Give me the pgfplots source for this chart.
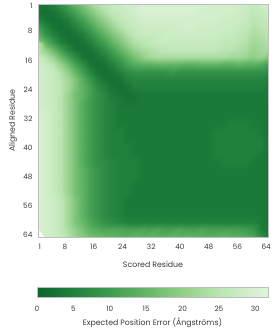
\documentclass[border=0pt]{standalone}
\usepackage{pgfplots}
\pgfplotsset{compat=1.18}
\usepackage{fontspec}
\setmainfont{Poppins}
\definecolor{txt}{HTML}{3A3A3A}
\definecolor{frm}{HTML}{BDBDBD}
\pgfkeys{/pgf/number format/assume math mode=true}
\begin{document}
\begin{tikzpicture}
\begin{axis}[
  name=main,
  at={(0pt,0pt)}, anchor=north west,
  scale only axis, width=230pt, height=233pt,
  xmin=0.5, xmax=64.5, ymin=0.5, ymax=64.5,
  y dir=reverse,
  axis on top,
  axis line style={draw=frm, line width=0.7pt},
  xtick={1,8,16,24,32,40,48,56,64},
  ytick={1,8,16,24,32,40,48,56,64},
  major tick length=0pt,
  tick label style={font=\fontsize{7.3}{9}\selectfont, text=txt},
  xticklabel shift=4pt,
  yticklabel shift=2pt,
  xlabel={Scored Residue}, ylabel={Aligned Residue},
  label style={font=\fontsize{7.8}{9.4}\selectfont, text=txt},
  xlabel style={at={(axis description cs:0.5,0)}, anchor=center, yshift=-28pt},
  ylabel style={at={(axis description cs:0,0.5)}, anchor=center, yshift=25pt},
  colormap={pae}{rgb255(0)=(13,100,45) rgb255(20)=(32,128,60) rgb255(40)=(62,155,80) rgb255(60)=(100,182,102) rgb255(80)=(145,207,137) rgb255(100)=(187,229,178) rgb255(127)=(226,245,221)},
  point meta min=0, point meta max=31.75,
  colorbar horizontal,
  colorbar style={
    at={(parent axis.south west)}, anchor=north west, yshift=-42pt, xshift=-1pt,
    scale only axis, width=231pt, height=10pt,
    xtick={0,5,...,30}, major tick length=0pt,
    axis line style={draw=frm, line width=0.7pt},
    xticklabel style={font=\fontsize{7.3}{9}\selectfont, text=txt},
    xticklabel shift=5pt,
    xlabel={Expected Position Error (Ångströms)},
    xlabel style={font=\fontsize{7.8}{9.4}\selectfont, text=txt, at={(axis description cs:0.5,0)}, anchor=center, yshift=-25pt},
  },
]
\addplot[surf, shader=interp, mesh/cols=32, mesh/rows=32, point meta=explicit]
  table[header=false, row sep=\\, meta index=0,
        x expr={0.5+mod(\coordindex,32)*64/31},
        y expr={0.5+floor(\coordindex/32)*64/31}]{
2\\3\\5\\8\\11\\15\\18\\21\\24\\26\\27\\28\\29\\29\\30\\30\\30\\30\\30\\30\\30\\30\\30\\29\\29\\29\\29\\29\\28\\27\\28\\29\\
3\\2\\3\\5\\8\\11\\15\\18\\21\\24\\26\\27\\28\\29\\30\\30\\30\\30\\30\\30\\30\\30\\29\\29\\29\\29\\29\\28\\27\\26\\27\\28\\
5\\3\\2\\3\\5\\8\\11\\15\\18\\21\\24\\26\\27\\28\\29\\29\\29\\29\\29\\29\\29\\29\\29\\29\\29\\28\\28\\28\\27\\25\\26\\27\\
10\\6\\3\\2\\3\\5\\8\\11\\15\\18\\21\\24\\26\\27\\28\\28\\28\\28\\28\\29\\29\\29\\28\\28\\28\\28\\28\\27\\26\\24\\25\\26\\
14\\9\\5\\3\\2\\3\\5\\8\\11\\15\\18\\21\\24\\26\\27\\27\\27\\28\\28\\28\\28\\28\\28\\28\\28\\27\\27\\26\\25\\23\\24\\25\\
19\\14\\9\\5\\3\\2\\3\\5\\8\\11\\15\\18\\21\\24\\25\\26\\27\\27\\27\\27\\27\\27\\27\\27\\27\\26\\26\\25\\24\\22\\23\\24\\
24\\20\\15\\10\\6\\3\\2\\3\\5\\8\\11\\15\\18\\21\\23\\24\\25\\26\\26\\26\\26\\26\\26\\26\\26\\25\\25\\24\\23\\21\\22\\23\\
27\\25\\21\\16\\11\\7\\3\\2\\3\\5\\8\\11\\14\\17\\20\\22\\23\\23\\23\\23\\23\\23\\23\\23\\23\\23\\22\\22\\21\\20\\21\\18\\
28\\27\\25\\21\\16\\11\\7\\3\\2\\3\\5\\8\\11\\13\\14\\14\\15\\15\\15\\15\\14\\14\\15\\15\\15\\14\\14\\15\\14\\14\\13\\11\\
29\\28\\27\\24\\20\\15\\10\\6\\3\\2\\3\\5\\7\\8\\8\\8\\8\\8\\9\\8\\8\\8\\8\\8\\8\\8\\8\\8\\8\\8\\8\\7\\
29\\28\\27\\25\\22\\18\\13\\9\\5\\3\\2\\3\\5\\6\\6\\6\\6\\6\\6\\6\\6\\6\\6\\6\\6\\6\\6\\6\\6\\6\\6\\5\\
29\\28\\27\\25\\22\\18\\14\\11\\7\\5\\3\\2\\3\\5\\5\\5\\5\\5\\5\\5\\5\\5\\5\\5\\5\\5\\5\\5\\5\\5\\5\\4\\
29\\28\\27\\25\\21\\17\\14\\11\\8\\6\\4\\3\\2\\3\\4\\4\\4\\4\\4\\4\\4\\4\\4\\4\\4\\4\\4\\4\\4\\4\\4\\4\\
29\\28\\27\\25\\21\\17\\13\\10\\8\\6\\5\\4\\3\\3\\4\\4\\4\\4\\4\\4\\4\\4\\4\\4\\4\\4\\4\\4\\4\\4\\4\\3\\
29\\29\\27\\25\\21\\17\\13\\10\\8\\6\\5\\4\\4\\4\\4\\4\\4\\4\\4\\4\\4\\4\\4\\4\\4\\4\\4\\4\\4\\4\\4\\3\\
29\\29\\27\\25\\21\\17\\13\\10\\8\\6\\5\\4\\4\\4\\4\\4\\4\\4\\4\\4\\4\\4\\4\\4\\4\\4\\4\\4\\4\\4\\4\\3\\
30\\29\\27\\25\\21\\17\\13\\10\\8\\6\\5\\4\\4\\4\\4\\4\\4\\4\\4\\4\\4\\4\\4\\4\\4\\4\\5\\5\\5\\4\\4\\3\\
30\\29\\27\\25\\21\\17\\13\\10\\8\\6\\5\\5\\4\\4\\4\\4\\4\\4\\4\\4\\4\\4\\4\\4\\5\\5\\5\\5\\5\\5\\4\\3\\
30\\29\\27\\25\\21\\17\\13\\10\\8\\6\\5\\5\\4\\4\\4\\4\\4\\4\\4\\4\\4\\4\\4\\4\\5\\5\\5\\5\\5\\5\\5\\3\\
30\\29\\27\\25\\21\\17\\13\\10\\8\\6\\5\\5\\5\\4\\4\\4\\4\\4\\4\\4\\4\\4\\4\\4\\5\\5\\5\\5\\5\\5\\5\\3\\
30\\29\\27\\25\\21\\17\\13\\10\\8\\6\\5\\5\\5\\4\\4\\4\\4\\4\\4\\4\\4\\4\\4\\4\\5\\5\\5\\5\\5\\5\\4\\3\\
30\\29\\27\\25\\21\\17\\13\\10\\8\\7\\6\\5\\5\\5\\4\\4\\4\\4\\4\\4\\4\\4\\4\\4\\4\\5\\5\\5\\5\\4\\4\\3\\
30\\29\\27\\25\\21\\17\\14\\11\\9\\7\\6\\5\\5\\5\\4\\4\\4\\4\\4\\4\\4\\4\\4\\4\\4\\4\\4\\4\\4\\4\\4\\3\\
30\\29\\27\\25\\21\\17\\14\\11\\9\\7\\6\\5\\5\\5\\4\\4\\4\\4\\4\\4\\4\\4\\4\\4\\4\\4\\4\\4\\4\\4\\4\\3\\
30\\29\\27\\25\\21\\17\\14\\11\\9\\7\\6\\5\\5\\4\\4\\4\\4\\4\\4\\4\\4\\4\\4\\4\\4\\4\\4\\4\\4\\4\\4\\3\\
30\\29\\27\\25\\21\\17\\14\\11\\9\\7\\6\\5\\5\\4\\4\\4\\4\\4\\4\\4\\4\\4\\4\\4\\4\\4\\4\\4\\4\\4\\4\\3\\
30\\29\\28\\26\\22\\18\\14\\11\\9\\7\\6\\5\\4\\4\\4\\4\\4\\4\\4\\4\\4\\4\\4\\4\\4\\4\\4\\4\\4\\4\\4\\3\\
30\\29\\28\\26\\22\\18\\14\\11\\9\\7\\6\\5\\4\\4\\4\\4\\4\\4\\4\\4\\4\\4\\4\\4\\4\\4\\4\\4\\4\\4\\4\\3\\
30\\29\\28\\26\\22\\18\\14\\11\\9\\7\\6\\5\\4\\4\\4\\4\\4\\4\\4\\4\\4\\4\\4\\4\\4\\4\\4\\4\\4\\4\\4\\3\\
30\\29\\28\\26\\22\\18\\15\\12\\10\\8\\7\\6\\5\\5\\5\\5\\5\\5\\5\\5\\5\\5\\5\\5\\5\\5\\5\\5\\5\\5\\4\\3\\
30\\29\\28\\26\\23\\20\\17\\14\\13\\12\\12\\12\\11\\11\\12\\11\\12\\11\\11\\12\\11\\11\\12\\11\\11\\11\\11\\11\\10\\9\\4\\3\\
30\\29\\28\\27\\24\\21\\19\\17\\16\\15\\15\\14\\14\\15\\14\\15\\14\\14\\15\\14\\15\\14\\14\\14\\14\\15\\14\\14\\13\\12\\8\\2\\
};
\end{axis}
\pgfresetboundingbox
\path[use as bounding box] ([xshift=-38pt,yshift=4pt]main.north west) rectangle ([xshift=6pt,yshift=-96pt]main.south east);
\end{tikzpicture}
\end{document}
